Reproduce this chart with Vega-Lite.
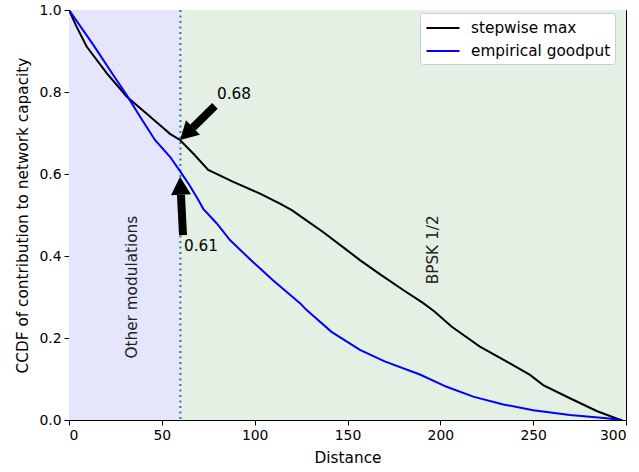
{
  "$schema": "https://vega.github.io/schema/vega-lite/v6.json",
  "width": 557,
  "height": 410,
  "autosize": {"type": "none"},
  "padding": {"left": 69, "top": 10, "right": 13, "bottom": 52},
  "background": "white",
  "config": {
    "font": "DejaVu Sans",
    "view": {"stroke": "black", "strokeWidth": 1},
    "axis": {
      "grid": false,
      "domainColor": "black",
      "tickColor": "black",
      "tickSize": 5,
      "labelColor": "black",
      "titleColor": "black",
      "labelFontSize": 13.9,
      "titleFontSize": 15.3,
      "titleFontWeight": "normal",
      "labelFont": "DejaVu Sans",
      "titleFont": "DejaVu Sans"
    }
  },
  "datasets": {
    "regions": [
      {"start": 0, "end": 60, "region": "Other modulations"},
      {"start": 60, "end": 300, "region": "BPSK 1/2"}
    ],
    "curves": [
      {"series": "stepwise max", "distance": 0, "ccdf": 1.0},
      {"series": "stepwise max", "distance": 4, "ccdf": 0.96},
      {"series": "stepwise max", "distance": 9.5, "ccdf": 0.911},
      {"series": "stepwise max", "distance": 20.3, "ccdf": 0.846},
      {"series": "stepwise max", "distance": 31, "ccdf": 0.789},
      {"series": "stepwise max", "distance": 43.6, "ccdf": 0.74},
      {"series": "stepwise max", "distance": 50, "ccdf": 0.715},
      {"series": "stepwise max", "distance": 54.4, "ccdf": 0.698},
      {"series": "stepwise max", "distance": 59.8, "ccdf": 0.683},
      {"series": "stepwise max", "distance": 66.9, "ccdf": 0.65},
      {"series": "stepwise max", "distance": 75, "ccdf": 0.61},
      {"series": "stepwise max", "distance": 88.5, "ccdf": 0.581},
      {"series": "stepwise max", "distance": 102.9, "ccdf": 0.552},
      {"series": "stepwise max", "distance": 113.6, "ccdf": 0.528},
      {"series": "stepwise max", "distance": 120, "ccdf": 0.512},
      {"series": "stepwise max", "distance": 124.4, "ccdf": 0.498},
      {"series": "stepwise max", "distance": 137, "ccdf": 0.458},
      {"series": "stepwise max", "distance": 149.5, "ccdf": 0.415},
      {"series": "stepwise max", "distance": 156.7, "ccdf": 0.39},
      {"series": "stepwise max", "distance": 168, "ccdf": 0.354},
      {"series": "stepwise max", "distance": 180, "ccdf": 0.317},
      {"series": "stepwise max", "distance": 190.8, "ccdf": 0.285},
      {"series": "stepwise max", "distance": 197, "ccdf": 0.264},
      {"series": "stepwise max", "distance": 206, "ccdf": 0.228},
      {"series": "stepwise max", "distance": 221.3, "ccdf": 0.179},
      {"series": "stepwise max", "distance": 237.5, "ccdf": 0.138},
      {"series": "stepwise max", "distance": 248.3, "ccdf": 0.11},
      {"series": "stepwise max", "distance": 255.4, "ccdf": 0.085},
      {"series": "stepwise max", "distance": 269.8, "ccdf": 0.053},
      {"series": "stepwise max", "distance": 284.2, "ccdf": 0.022},
      {"series": "stepwise max", "distance": 297, "ccdf": 0.0},
      {"series": "empirical goodput", "distance": 0, "ccdf": 1.0},
      {"series": "empirical goodput", "distance": 13.1, "ccdf": 0.915},
      {"series": "empirical goodput", "distance": 23.9, "ccdf": 0.841},
      {"series": "empirical goodput", "distance": 31, "ccdf": 0.793},
      {"series": "empirical goodput", "distance": 38.2, "ccdf": 0.74},
      {"series": "empirical goodput", "distance": 46.3, "ccdf": 0.683},
      {"series": "empirical goodput", "distance": 54.4, "ccdf": 0.642},
      {"series": "empirical goodput", "distance": 59.8, "ccdf": 0.607},
      {"series": "empirical goodput", "distance": 65, "ccdf": 0.572},
      {"series": "empirical goodput", "distance": 69.6, "ccdf": 0.537},
      {"series": "empirical goodput", "distance": 72.3, "ccdf": 0.515},
      {"series": "empirical goodput", "distance": 79.5, "ccdf": 0.48},
      {"series": "empirical goodput", "distance": 86.7, "ccdf": 0.439},
      {"series": "empirical goodput", "distance": 97.5, "ccdf": 0.392},
      {"series": "empirical goodput", "distance": 110, "ccdf": 0.34},
      {"series": "empirical goodput", "distance": 124.4, "ccdf": 0.285},
      {"series": "empirical goodput", "distance": 128, "ccdf": 0.268},
      {"series": "empirical goodput", "distance": 141.4, "ccdf": 0.215},
      {"series": "empirical goodput", "distance": 156.7, "ccdf": 0.171},
      {"series": "empirical goodput", "distance": 170, "ccdf": 0.143},
      {"series": "empirical goodput", "distance": 189, "ccdf": 0.111},
      {"series": "empirical goodput", "distance": 203.4, "ccdf": 0.081},
      {"series": "empirical goodput", "distance": 217.7, "ccdf": 0.057},
      {"series": "empirical goodput", "distance": 233.9, "ccdf": 0.038},
      {"series": "empirical goodput", "distance": 250, "ccdf": 0.024},
      {"series": "empirical goodput", "distance": 269.8, "ccdf": 0.012},
      {"series": "empirical goodput", "distance": 289.5, "ccdf": 0.004},
      {"series": "empirical goodput", "distance": 298, "ccdf": 0.0}
    ],
    "arrow1": [{"tx": 78.6, "ty": 0.766, "bx": 66.7, "by": 0.713, "x": 59.8, "y": 0.683, "label": "0.68", "lx": 79.7, "ly": 0.795}],
    "arrow2": [{"tx": 61.4, "ty": 0.451, "bx": 60.3, "by": 0.549, "x": 59.8, "y": 0.593, "label": "0.61", "lx": 61.9, "ly": 0.424}],
    "notes": [
      {"x": 33.9, "y": 0.324, "label": "Other modulations"},
      {"x": 196, "y": 0.415, "label": "BPSK 1/2"}
    ],
    "cut": [{"x": 60}]
  },
  "layer": [
    {
      "data": {"name": "regions"},
      "mark": {"type": "rect"},
      "encoding": {
        "x": {"field": "start", "type": "quantitative", "scale": {"domain": [0, 300], "nice": false, "zero": false},
              "axis": {"values": [0, 50, 100, 150, 200, 250, 300], "title": "Distance", "titlePadding": 9, "labelPadding": 3}},
        "x2": {"field": "end"},
        "y": {"datum": 0, "type": "quantitative", "scale": {"domain": [0, 1], "nice": false},
              "axis": {"values": [0, 0.2, 0.4, 0.6, 0.8, 1.0], "format": ".1f", "title": "CCDF of contribution to network capacity", "titlePadding": 8, "labelPadding": 3}},
        "y2": {"datum": 1},
        "fill": {"field": "region", "type": "nominal", "scale": {"domain": ["Other modulations", "BPSK 1/2"], "range": ["#e5e5fc", "#e5f0e5"]}, "legend": null}
      }
    },
    {
      "data": {"name": "cut"},
      "mark": {"type": "rule", "color": "#1f77b4", "strokeWidth": 2, "strokeDash": [2, 3.5]},
      "encoding": {"x": {"field": "x", "type": "quantitative"}}
    },
    {
      "data": {"name": "curves"},
      "mark": {"type": "line", "strokeWidth": 2, "clip": true},
      "encoding": {
        "x": {"field": "distance", "type": "quantitative"},
        "y": {"field": "ccdf", "type": "quantitative"},
        "color": {"field": "series", "type": "nominal",
                  "scale": {"domain": ["stepwise max", "empirical goodput"], "range": ["black", "blue"]},
                  "legend": {"title": null, "orient": "none", "legendX": 351, "legendY": 3, "symbolType": "M-1.65,0L1.65,0", "symbolStrokeWidth": 2, "symbolSize": 400, "symbolOffset": 8,
                             "labelFontSize": 15.3, "labelFont": "DejaVu Sans", "labelColor": "black", "fillColor": "white", "strokeColor": "#cccccc", "cornerRadius": 3, "padding": 4, "rowPadding": 3, "labelOffset": 17}},
        "order": {"field": "distance", "type": "quantitative"}
      }
    },
    {
      "data": {"name": "arrow1"},
      "layer": [
        {"mark": {"type": "rule", "color": "black", "strokeWidth": 8, "strokeCap": "butt"},
         "encoding": {"x": {"field": "tx", "type": "quantitative"}, "y": {"field": "ty", "type": "quantitative"}, "x2": {"field": "bx"}, "y2": {"field": "by"}}},
        {"mark": {"type": "point", "shape": "M0,0L-1,1.8L1,1.8Z", "filled": true, "color": "black", "opacity": 1, "size": 400, "angle": 226},
         "encoding": {"x": {"field": "x", "type": "quantitative"}, "y": {"field": "y", "type": "quantitative"}}},
        {"mark": {"type": "text", "align": "left", "baseline": "middle", "fontSize": 15.3, "color": "black"},
         "encoding": {"x": {"field": "lx", "type": "quantitative"}, "y": {"field": "ly", "type": "quantitative"}, "text": {"field": "label"}}}
      ]
    },
    {
      "data": {"name": "arrow2"},
      "layer": [
        {"mark": {"type": "rule", "color": "black", "strokeWidth": 8, "strokeCap": "butt"},
         "encoding": {"x": {"field": "tx", "type": "quantitative"}, "y": {"field": "ty", "type": "quantitative"}, "x2": {"field": "bx"}, "y2": {"field": "by"}}},
        {"mark": {"type": "point", "shape": "M0,0L-1,1.8L1,1.8Z", "filled": true, "color": "black", "opacity": 1, "size": 400, "angle": 357},
         "encoding": {"x": {"field": "x", "type": "quantitative"}, "y": {"field": "y", "type": "quantitative"}}},
        {"mark": {"type": "text", "align": "left", "baseline": "middle", "fontSize": 15.3, "color": "black"},
         "encoding": {"x": {"field": "lx", "type": "quantitative"}, "y": {"field": "ly", "type": "quantitative"}, "text": {"field": "label"}}}
      ]
    },
    {
      "data": {"name": "notes"},
      "mark": {"type": "text", "angle": 270, "align": "center", "baseline": "middle", "fontSize": 15.3, "color": "#222222"},
      "encoding": {"x": {"field": "x", "type": "quantitative"}, "y": {"field": "y", "type": "quantitative"}, "text": {"field": "label"}}
    }
  ]
}
